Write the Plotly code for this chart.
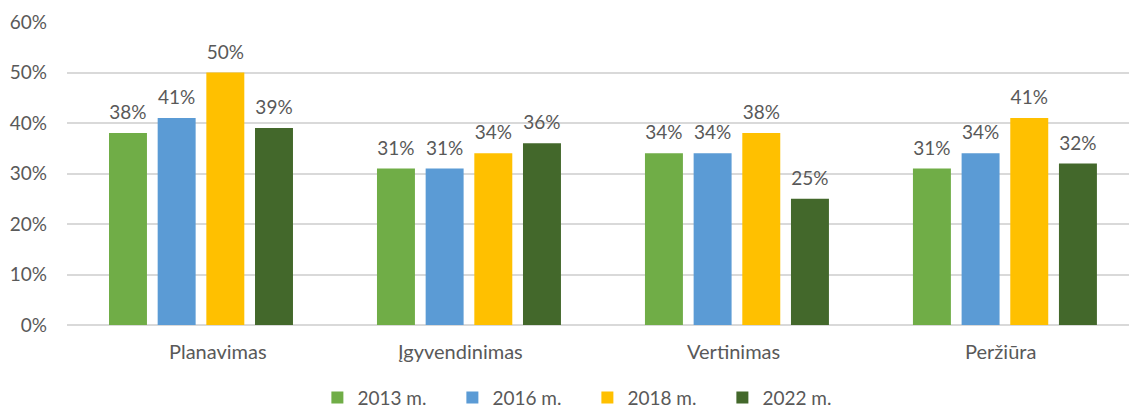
import plotly.graph_objects as go

categories = ["Planavimas", "Įgyvendinimas", "Vertinimas", "Peržiūra"]
series_names = ["2013 m.", "2016 m.", "2018 m.", "2022 m."]
v2013 = [0.38, 0.31, 0.34, 0.31]
v2016 = [0.41, 0.31, 0.34, 0.34]
v2018 = [0.50, 0.34, 0.38, 0.41]
v2022 = [0.39, 0.36, 0.25, 0.32]
colors = ["#70AD47", "#5B9BD5", "#FFC000", "#43682B"]
y_ticks = [0, 0.1, 0.2, 0.3, 0.4, 0.5, 0.6]
y_tick_labels = ["0%", "10%", "20%", "30%", "40%", "50%", "60%"]

# styling: small horizontal nudges of category labels (pixels), as in the source chart
label_nudge = [17, -8, -3, -4]

FONT = "Lato, 'Open Sans', sans-serif"
TXT = "#595959"
FS = 19

fig = go.Figure()
all_vals = [v2013, v2016, v2018, v2022]
for name, vals, col in zip(series_names, all_vals, colors):
    fig.add_trace(go.Bar(
        x=categories, y=vals, name=name,
        marker=dict(color=col, line=dict(width=0)),
    ))
for name, vals in zip(series_names, all_vals):
    fig.add_trace(go.Scatter(
        x=categories, y=vals, mode="markers+text", showlegend=False,
        hoverinfo="skip",
        marker=dict(size=13, opacity=0),
        text=[f"{round(v*100)}%" for v in vals],
        textposition="top center", cliponaxis=False,
        textfont=dict(family=FONT, size=FS, color=TXT),
    ))

for cat, dx in zip(categories, label_nudge):
    fig.add_annotation(x=cat, y=0, xref="x", yref="y", text=cat, showarrow=False,
                       yanchor="top", yshift=-12, xshift=dx,
                       font=dict(family=FONT, size=FS + 1, color=TXT))

fig.update_layout(
    width=1129, height=409,
    margin=dict(l=67, r=0, t=22, b=84, autoexpand=False),
    paper_bgcolor="white", plot_bgcolor="white",
    barmode="group", bargap=0.2735, bargroupgap=0.22,
    scattermode="group", scattergap=0.2735,
    font=dict(family=FONT, size=FS, color=TXT),
    showlegend=True,
    legend=dict(orientation="h", x=0.49, xanchor="center", y=-0.24, yanchor="middle",
                font=dict(family=FONT, size=FS, color=TXT), entrywidth=90,
                itemwidth=30, traceorder="normal"),
    xaxis=dict(type="category", range=[-0.5, 3.463], showgrid=False,
               showline=False, ticks="", showticklabels=False, automargin=False),
    yaxis=dict(range=[0, 0.6], tickvals=y_ticks, ticktext=y_tick_labels,
               showgrid=True, gridcolor="#D9D9D9", gridwidth=1.5,
               zeroline=True, zerolinecolor="#D9D9D9", zerolinewidth=1.5,
               showline=False, ticks="", ticklabelstandoff=19, automargin=False,
               tickfont=dict(family=FONT, size=FS, color=TXT)),
)

fig.write_html("out.html", config={"displayModeBar": False},
               post_script="document.body.style.margin='0';document.body.style.overflow='hidden';")
